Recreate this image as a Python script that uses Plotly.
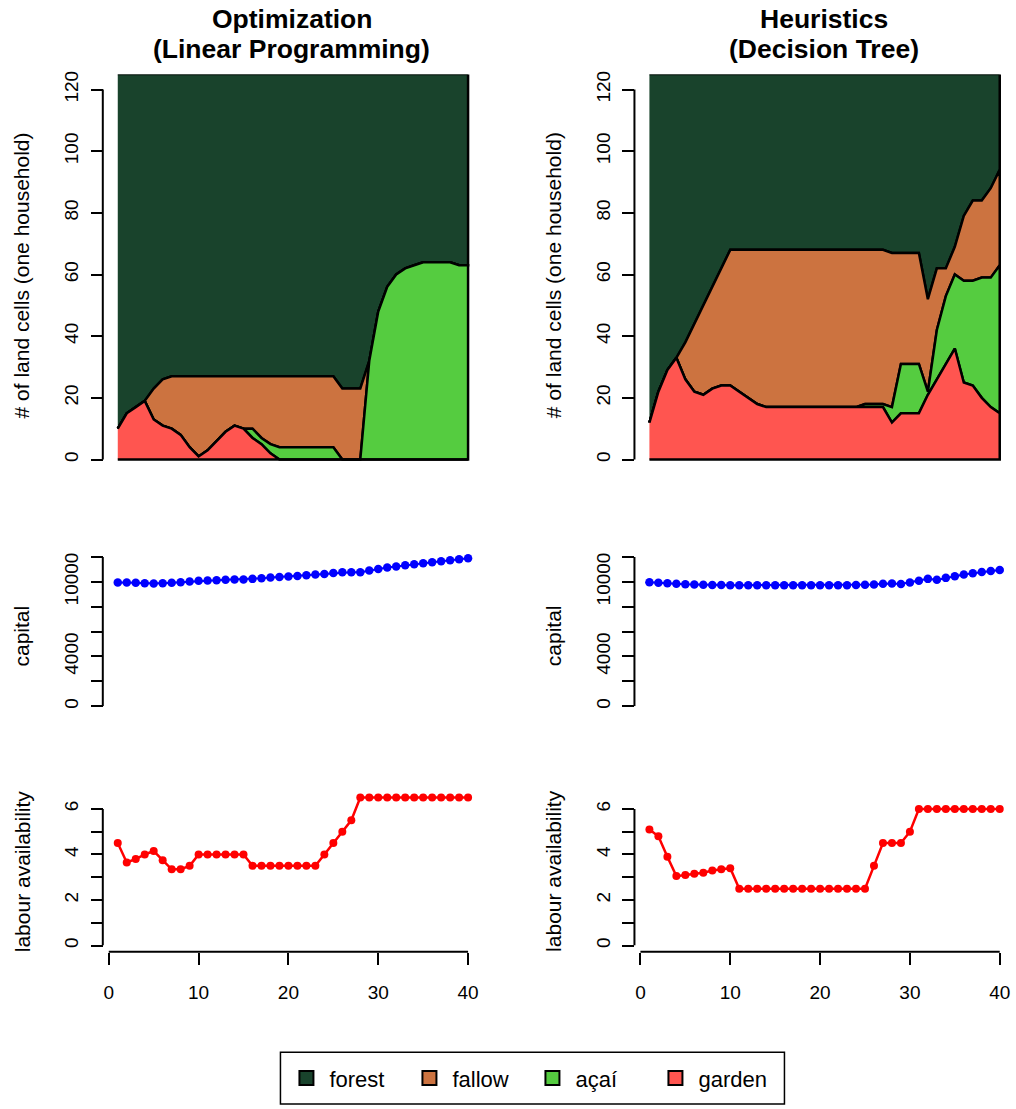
import plotly.graph_objects as go

W, H = 1016, 1109

# ---------------- data ----------------
steps = list(range(1, 41))
total_cells = 125  # land cells owned by the household

# Optimization (Linear Programming): land use per year (cells)
lp_garden = [10, 15, 17, 19, 13, 11, 10, 8, 4, 1,
             3, 6, 9, 11, 10, 7, 5, 2, 0, 0,
             0, 0, 0, 0, 0, 0, 0, 0, 0, 0,
             0, 0, 0, 0, 0, 0, 0, 0, 0, 0]
lp_acai = [0, 0, 0, 0, 0, 0, 0, 0, 0, 0,
           0, 0, 0, 0, 0, 3, 2, 3, 4, 4,
           4, 4, 4, 4, 4, 0, 0, 0, 32, 48,
           56, 60, 62, 63, 64, 64, 64, 64, 63, 63]
lp_fallow = [0, 0, 0, 0, 10, 15, 17, 19, 23, 26,
             24, 21, 18, 16, 17, 17, 20, 22, 23, 23,
             23, 23, 23, 23, 23, 23, 23, 23, 0, 0,
             0, 0, 0, 0, 0, 0, 0, 0, 0, 0]

# Heuristics (Decision Tree): land use per year (cells)
dt_garden = [12, 22, 29, 33, 26, 22, 21, 23, 24, 24,
             22, 20, 18, 17, 17, 17, 17, 17, 17, 17,
             17, 17, 17, 17, 17, 17, 17, 12, 15, 15,
             15, 21, 26, 31, 36, 25, 24, 20, 17, 15]
dt_acai = [0, 0, 0, 0, 0, 0, 0, 0, 0, 0,
           0, 0, 0, 0, 0, 0, 0, 0, 0, 0,
           0, 0, 0, 0, 1, 1, 1, 5, 16, 16,
           16, 1, 16, 22, 24, 33, 34, 39, 42, 48]
dt_fallow = [0, 0, 0, 0, 12, 22, 29, 33, 38, 44,
             46, 48, 50, 51, 51, 51, 51, 51, 51, 51,
             51, 51, 51, 51, 50, 50, 50, 50, 36, 36,
             36, 30, 20, 9, 9, 21, 26, 25, 29, 31]

lp_capital = [9950, 9950, 9920, 9890, 9870, 9890, 9920, 9970, 10030, 10080,
              10110, 10130, 10160, 10190, 10190, 10240, 10290, 10350, 10400, 10430,
              10480, 10530, 10590, 10640, 10720, 10770, 10770, 10770, 10910, 11040,
              11150, 11230, 11330, 11410, 11490, 11570, 11650, 11730, 11810, 11890]
dt_capital = [9970, 9920, 9890, 9840, 9810, 9790, 9760, 9750, 9740, 9730,
              9730, 9730, 9730, 9730, 9730, 9730, 9730, 9730, 9730, 9730,
              9730, 9730, 9730, 9740, 9760, 9790, 9840, 9870, 9830, 9950,
              10080, 10240, 10160, 10320, 10450, 10590, 10690, 10800, 10880, 10960]

lp_labour = [4.5, 3.65, 3.8, 4.0, 4.15, 3.75, 3.35, 3.35, 3.5, 4.0,
             4.0, 4.0, 4.0, 4.0, 4.0, 3.5, 3.5, 3.5, 3.5, 3.5,
             3.5, 3.5, 3.5, 4.0, 4.5, 5.0, 5.5, 6.5, 6.5, 6.5,
             6.5, 6.5, 6.5, 6.5, 6.5, 6.5, 6.5, 6.5, 6.5, 6.5]
dt_labour = [5.1, 4.8, 3.9, 3.05, 3.1, 3.15, 3.2, 3.3, 3.35, 3.4,
             2.5, 2.5, 2.5, 2.5, 2.5, 2.5, 2.5, 2.5, 2.5, 2.5,
             2.5, 2.5, 2.5, 2.5, 2.5, 3.5, 4.5, 4.5, 4.5, 5.0,
             6.0, 6.0, 6.0, 6.0, 6.0, 6.0, 6.0, 6.0, 6.0, 6.0]

land_classes = ["forest", "fallow", "açaí", "garden"]
land_colors = {"forest": "#19432C", "fallow": "#CC7340",
               "açaí": "#55CC40", "garden": "#FF5550"}

titles = [("Optimization", "(Linear Programming)"),
          ("Heuristics", "(Decision Tree)")]

land_ticks = [0, 20, 40, 60, 80, 100, 120]
capital_ticks = [0, 2000, 4000, 6000, 8000, 10000, 12000]
capital_labels = ["0", "", "4000", "", "", "10000", ""]
labour_ticks = [0, 1, 2, 3, 4, 5, 6]
labour_labels = ["0", "", "2", "", "4", "", "6"]
year_ticks = [0, 10, 20, 30, 40]

# ---------------- layout helpers (pixel geometry) ----------------
FONT = "Liberation Sans, Arial, Helvetica, sans-serif"
COL_SHIFT = 532.7
X0_PX = 109.0          # pixel of year 0 in the left column
PX_PER_YEAR = 9.0
TICK_FONT = 19


def fx(px):
    return px / W


def fy(py):
    return 1 - py / H


x_dom_px = (104.0, 478.0)
x_range = [(x_dom_px[0] - X0_PX) / PX_PER_YEAR, (x_dom_px[1] - X0_PX) / PX_PER_YEAR]

# rows: (top px, bottom px, pixel of value 0, px per unit)
rows = [
    dict(top=71.0, bottom=462.0, zero=458.0, scale=3.1),
    dict(top=550.0, bottom=706.0, zero=706.0, scale=0.0125),
    dict(top=790.0, bottom=946.7, zero=946.7, scale=22.9),
]

fig = go.Figure()
layout = {}
shapes = []
annotations = []


def ax_name(kind, idx):
    return kind + ("" if idx == 1 else str(idx))


def stack_polys(garden, acai, fallow):
    c1 = list(garden)
    c2 = [a + b for a, b in zip(c1, acai)]
    c3 = [a + b for a, b in zip(c2, fallow)]
    c0 = [0] * len(steps)
    top = [total_cells] * len(steps)
    return [("forest", c3, top), ("fallow", c2, c3),
            ("açaí", c1, c2), ("garden", c0, c1)]


land = [(lp_garden, lp_acai, lp_fallow), (dt_garden, dt_acai, dt_fallow)]
capital = [lp_capital, dt_capital]
labour = [lp_labour, dt_labour]

for c in range(2):
    dx = c * COL_SHIFT
    axis_px = 103.0 + dx
    for r in range(3):
        idx = r * 2 + c + 1
        xa, ya = ax_name("xaxis", idx), ax_name("yaxis", idx)
        xr, yr = ax_name("x", idx), ax_name("y", idx)
        row = rows[r]
        y_lo = (row["zero"] - row["bottom"]) / row["scale"]
        y_hi = (row["zero"] - row["top"]) / row["scale"]

        bottom_row = r == 2
        layout[xa] = dict(
            domain=[fx(x_dom_px[0] + dx), fx(x_dom_px[1] + dx)],
            range=x_range, anchor="free", position=fy(953.0),
            showgrid=False, zeroline=False, showline=False,
            visible=bottom_row,
            tickmode="array", tickvals=year_ticks,
            ticks="outside", ticklen=12, tickwidth=2, tickcolor="black",
            tickfont=dict(family=FONT, size=TICK_FONT, color="black"),
            ticklabelstandoff=11,
        )
        if r == 0:
            tv, tt, line_to = land_ticks, [str(v) for v in land_ticks], 120
        elif r == 1:
            tv, tt, line_to = capital_ticks, capital_labels, 12000
        else:
            tv, tt, line_to = labour_ticks, labour_labels, 6
        layout[ya] = dict(
            domain=[fy(row["bottom"]), fy(row["top"])],
            range=[y_lo, y_hi], anchor="free", position=fx(axis_px),
            showgrid=False, zeroline=False, showline=False,
            tickmode="array", tickvals=tv, ticktext=tt, tickangle=-90,
            ticks="outside", ticklen=12, tickwidth=2, tickcolor="black",
            tickfont=dict(family=FONT, size=TICK_FONT, color="black"),
            ticklabelstandoff=5,
        )
        # axis lines span first to last tick only
        shapes.append(dict(type="line", xref="paper", yref=yr,
                           x0=fx(axis_px), x1=fx(axis_px), y0=0, y1=line_to,
                           line=dict(color="black", width=2)))
        if bottom_row:
            shapes.append(dict(type="line", xref=xr, yref="paper",
                               x0=0, x1=40, y0=fy(953.0), y1=fy(953.0),
                               line=dict(color="black", width=2)))

        if r == 0:
            for name, lower, upper in stack_polys(*land[c]):
                fig.add_trace(go.Scatter(
                    x=steps + steps[::-1], y=upper + lower[::-1],
                    xaxis=xr, yaxis=yr, mode="lines", fill="toself",
                    fillcolor=land_colors[name],
                    line=dict(color="black", width=2.5),
                    showlegend=False, hoverinfo="skip"))
        elif r == 1:
            fig.add_trace(go.Scatter(
                x=steps, y=capital[c], xaxis=xr, yaxis=yr,
                mode="lines+markers", line=dict(color="#0000FF", width=2),
                marker=dict(color="#0000FF", size=8.5), cliponaxis=False,
                showlegend=False))
        else:
            fig.add_trace(go.Scatter(
                x=steps, y=labour[c], xaxis=xr, yaxis=yr,
                mode="lines+markers", line=dict(color="#FF0000", width=2.5),
                marker=dict(color="#FF0000", size=8), cliponaxis=False,
                showlegend=False))

    # column titles
    cx = 292.5 + dx
    annotations.append(dict(text="<b>%s</b>" % titles[c][0], x=fx(cx), y=fy(15),
                            xref="paper", yref="paper", showarrow=False,
                            xanchor="center", yanchor="middle",
                            font=dict(family=FONT, size=26.5, color="black")))
    annotations.append(dict(text="<b>%s</b>" % titles[c][1], x=fx(cx), y=fy(45),
                            xref="paper", yref="paper", showarrow=False,
                            xanchor="center", yanchor="middle",
                            font=dict(family=FONT, size=26.5, color="black")))
    # y axis titles
    for label, cy in [("# of land cells (one household)", 273),
                      ("capital", 635), ("labour availability", 872)]:
        annotations.append(dict(text=label, x=fx(22 + dx), y=fy(cy),
                                xref="paper", yref="paper", showarrow=False,
                                textangle=-90, xanchor="center", yanchor="middle",
                                font=dict(family=FONT, size=21, color="black")))

# legend entries
for name in land_classes:
    fig.add_trace(go.Scatter(
        x=[None], y=[None], mode="markers", name=name,
        marker=dict(symbol="square", size=14, color=land_colors[name],
                    line=dict(color="black", width=2)),
        showlegend=True))

shapes.append(dict(type="rect", xref="paper", yref="paper",
                   x0=fx(281), x1=fx(786), y0=fy(1106), y1=fy(1054),
                   line=dict(color="black", width=1.5)))

fig.update_layout(
    width=W, height=H,
    margin=dict(l=0, r=0, t=0, b=0),
    paper_bgcolor="white", plot_bgcolor="white",
    showlegend=True,
    legend=dict(orientation="h", x=fx(284), y=fy(1080),
                xanchor="left", yanchor="middle",
                font=dict(family=FONT, size=22, color="black"),
                bgcolor="rgba(0,0,0,0)", borderwidth=0,
                itemwidth=36,
                entrywidth=72, entrywidthmode="pixels",
                traceorder="normal"),
    shapes=shapes,
    annotations=annotations,
    **layout,
)

fig.write_html("out.html")
